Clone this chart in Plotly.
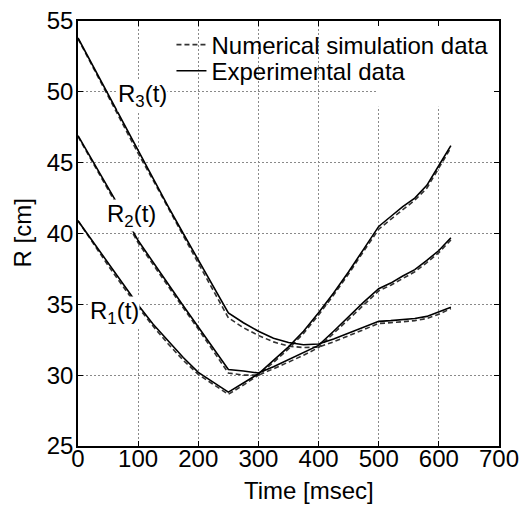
import plotly.graph_objects as go

# Time samples [msec]
t_ms = [0, 25, 50, 75, 100, 125, 150, 175, 200, 225, 250, 275, 300, 325, 350,
        375, 400, 425, 450, 475, 500, 520, 540, 560, 580, 600, 620]

# Experimental data [cm]
r1_exp = [40.9, 39.4, 37.9, 36.4, 34.95, 33.6, 32.4, 31.25, 30.2, 29.5, 28.8, 29.45, 30.1,
          31.05, 32.0, 33.1, 34.4, 35.8, 37.3, 38.9, 40.5, 41.2, 41.9, 42.5, 43.4, 44.8, 46.2]
r2_exp = [46.9, 45.1, 43.3, 41.4, 39.5, 37.95, 36.4, 34.9, 33.4, 31.9, 30.4, 30.3, 30.15,
          30.6, 31.1, 31.6, 32.1, 33.1, 34.15, 35.15, 36.1, 36.5, 37.0, 37.45, 38.1, 38.8, 39.7]
r3_exp = [53.8, 51.8, 49.8, 47.8, 45.8, 43.9, 41.9, 40.0, 38.1, 36.2, 34.4, 33.7, 33.1,
          32.6, 32.3, 32.15, 32.2, 32.55, 32.95, 33.35, 33.8, 33.85, 33.9, 34.0, 34.15, 34.45, 34.8]

# Numerical simulation data [cm]
r1_sim = [40.9, 39.3, 37.75, 36.25, 34.8, 33.45, 32.2, 31.05, 30.05, 29.35, 28.65, 29.3, 30.0,
          30.9, 31.85, 32.95, 34.25, 35.65, 37.15, 38.75, 40.3, 41.0, 41.7, 42.35, 43.2, 44.6, 46.05]
r2_sim = [46.85, 45.0, 43.15, 41.25, 39.35, 37.8, 36.25, 34.75, 33.25, 31.7, 30.15, 30.0, 30.0,
          30.45, 30.9, 31.4, 31.95, 32.95, 34.0, 35.0, 35.95, 36.35, 36.85, 37.3, 37.95, 38.65, 39.55]
r3_sim = [53.75, 51.7, 49.65, 47.65, 45.65, 43.75, 41.75, 39.85, 37.9, 35.95, 34.05, 33.35, 32.8,
          32.35, 32.05, 31.95, 31.98, 32.35, 32.8, 33.2, 33.65, 33.7, 33.75, 33.85, 34.0, 34.3, 34.7]

x_ticks = [0, 100, 200, 300, 400, 500, 600, 700]
y_ticks = [25, 30, 35, 40, 45, 50, 55]
curve_labels = ["R<sub>1</sub>(t)", "R<sub>2</sub>(t)", "R<sub>3</sub>(t)"]
legend_names = ["Numerical simulation data", "Experimental data"]
x_title = "Time [msec]"
y_title = "R [cm]"

FONT = "Liberation Sans, Arial, Helvetica, sans-serif"

fig = go.Figure()

for i, ys in enumerate([r1_sim, r2_sim, r3_sim]):
    fig.add_trace(go.Scatter(
        x=t_ms, y=ys, mode="lines", name=legend_names[0],
        legendgroup="sim", showlegend=(i == 0), legend="legend",
        line=dict(color="#333333", width=1.6, dash="5px,3px"),
    ))
for i, ys in enumerate([r1_exp, r2_exp, r3_exp]):
    fig.add_trace(go.Scatter(
        x=t_ms, y=ys, mode="lines", name=legend_names[1],
        legendgroup="exp", showlegend=(i == 0), legend="legend2",
        line=dict(color="black", width=1.6),
    ))

axis_common = dict(
    showline=True, linecolor="black", linewidth=1.5, mirror="ticks",
    ticks="inside", ticklen=5, tickcolor="black", tickwidth=1,
    showgrid=True, gridcolor="#8a8a8a", gridwidth=1, griddash="2px,2px",
    zeroline=False, automargin=False,
    tickfont=dict(family=FONT, size=24, color="black"),
)

fig.update_xaxes(range=[0, 700], tickvals=x_ticks, ticklabelstandoff=-10, **axis_common)
fig.update_yaxes(range=[25, 55], tickvals=y_ticks, ticklabelstandoff=-2, **axis_common)

# white patch where the legend box hides the grid in the original
fig.add_shape(type="rect", xref="x", yref="y", x0=497, x1=697, y0=48.95, y1=54.85,
              fillcolor="white", line=dict(width=0), layer="between")

label_pos = [(60, 34.45), (89, 41.3), (108, 49.75)]
for txt, (lx, ly) in zip(curve_labels, label_pos):
    fig.add_annotation(x=lx, y=ly, xref="x", yref="y", text=txt, showarrow=False,
                       font=dict(family=FONT, size=24, color="black"),
                       bgcolor="white", borderpad=0, xanchor="center", yanchor="middle")

fig.add_annotation(x=384, y=-0.104, xref="x", yref="paper", text=x_title, showarrow=False,
                   font=dict(family=FONT, size=24, color="black"),
                   xanchor="center", yanchor="middle")
fig.add_annotation(x=-0.133, y=0.5, xref="paper", yref="paper", text=y_title, showarrow=False,
                   textangle=-90, font=dict(family=FONT, size=24, color="black"),
                   xanchor="center", yanchor="middle")

leg_common = dict(xanchor="left", yanchor="top", bgcolor="rgba(0,0,0,0)", borderwidth=0,
                  font=dict(family=FONT, size=24, color="black"))
fig.update_layout(
    width=528, height=507,
    margin=dict(l=78, r=29, t=21, b=61),
    plot_bgcolor="white", paper_bgcolor="white",
    showlegend=True,
    legend=dict(x=0.222, y=0.9965, **leg_common),
    legend2=dict(x=0.222, y=0.935, **leg_common),
)

fig.write_html("out.html", config={"displayModeBar": False},
               post_script="document.body.style.margin='0';")
